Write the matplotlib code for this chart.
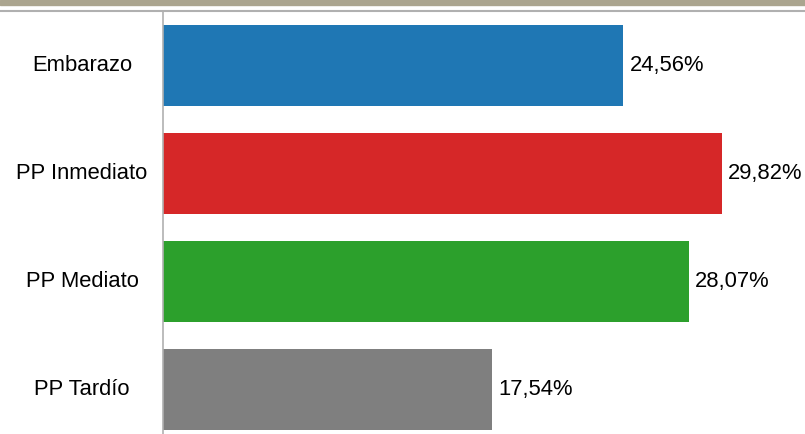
import numpy as np
import matplotlib.pyplot as plt
from matplotlib.lines import Line2D
from matplotlib.patches import Rectangle

plt.rcParams['font.family'] = ['Liberation Sans', 'DejaVu Sans']

categories = ['Embarazo', 'PP Inmediato', 'PP Mediato', 'PP Tardío']
values = [24.56, 29.82, 28.07, 17.54]
labels = ['24,56%', '29,82%', '28,07%', '17,54%']
colors = ['#1f77b4', '#d62728', '#2ca02c', '#7f7f7f']

W, H = 805, 434
fig = plt.figure(figsize=(W / 100, H / 100), dpi=100)

# axes placed in pixel terms
x0, top = 163, 11
ax = fig.add_axes([x0 / W, 0, (W - x0) / W, (H - top) / H])

y = np.arange(len(categories))
ax.barh(y, values, height=0.75, color=colors)
for yi, v, lab in zip(y, values, labels):
    ax.text(v + 0.35, yi, lab, va='center', ha='left', fontsize=15.8, color='black')

ax.set_xlim(0, (W - x0) / 18.73)
ax.set_ylim(3.41, -0.505)
ax.set_yticks(y)
ax.set_yticklabels(categories, fontsize=15.8, color='black', ha='center', va='center')
# labels centred in the left column (centre ~81 px from the axis)
ax.tick_params(axis='y', length=0, pad=(x0 - 82) * 0.72)
ax.set_xticks([])
for s in ['top', 'right', 'bottom']:
    ax.spines[s].set_visible(False)
ax.spines['left'].set_color('#b0b0b0')
ax.spines['left'].set_linewidth(1.2)

# decorative header band and rule
fig.patches.append(Rectangle((0, 1 - 5 / H), 1, 5 / H, transform=fig.transFigure,
                             color='#aba58f', zorder=0))
fig.lines.append(Line2D([0, 1], [1 - 11 / H, 1 - 11 / H], transform=fig.transFigure,
                        color='#b0b0b0', lw=1.5))

fig.savefig('out.png', dpi=100)
